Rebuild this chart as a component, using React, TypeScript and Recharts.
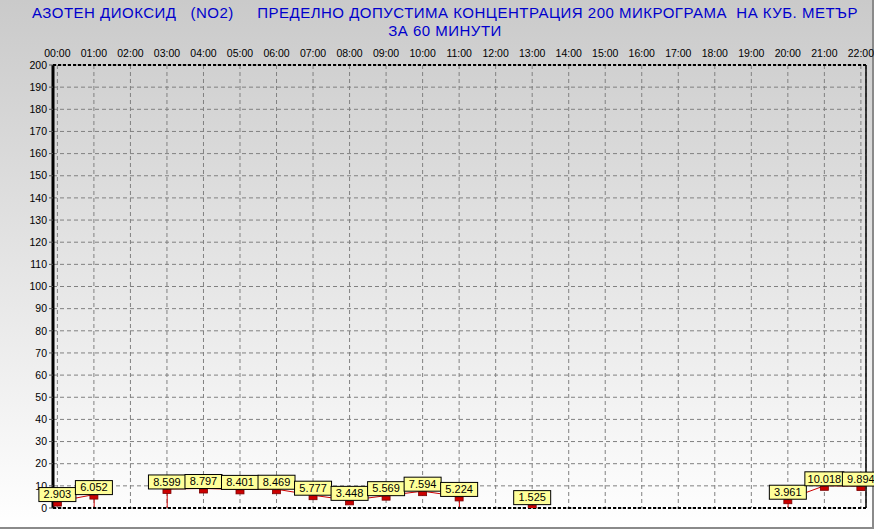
import React from 'react';
import {
  ComposedChart,
  Line,
  Bar,
  XAxis,
  YAxis,
  CartesianGrid,
  ReferenceLine,
} from 'recharts';

const hours = [0, 1, 2, 3, 4, 5, 6, 7, 8, 9, 10, 11, 12, 13, 14, 15, 16, 17, 18, 19, 20, 21, 22];
const hourLabels = [
  '00:00', '01:00', '02:00', '03:00', '04:00', '05:00', '06:00', '07:00', '08:00', '09:00', '10:00', '11:00',
  '12:00', '13:00', '14:00', '15:00', '16:00', '17:00', '18:00', '19:00', '20:00', '21:00', '22:00',
];
const no2Values: (number | null)[] = [
  2.903, 6.052, null, 8.599, 8.797, 8.401, 8.469, 5.777, 3.448, 5.569, 7.594, 5.224,
  null, 1.525, null, null, null, null, null, null, 3.961, 10.018, 9.894,
];
const yTicks = [0, 10, 20, 30, 40, 50, 60, 70, 80, 90, 100, 110, 120, 130, 140, 150, 160, 170, 180, 190, 200];

const titleLine1 = 'АЗОТЕН ДИОКСИД   (NO2)     ПРЕДЕЛНО ДОПУСТИМА КОНЦЕНТРАЦИЯ 200 МИКРОГРАМА  НА КУБ. МЕТЪР';
const titleLine2 = 'ЗА 60 МИНУТИ';

// a point at the edge of a gap gets a drop line to the baseline
const data = hours.map((h, i) => {
  const v = no2Values[i];
  const prev = i > 0 ? no2Values[i - 1] : 0;
  const next = i < no2Values.length - 1 ? no2Values[i + 1] : 0;
  const isEdge = v != null && (prev == null || next == null);
  return { hour: h, no2: v, drop: isEdge ? v : null };
});

const FONT = '"Liberation Sans", Arial, sans-serif';

const Marker = (props: any) => {
  const { cx, cy, value } = props;
  if (value == null || cx == null || cy == null) return <g />;
  return (
    <rect x={cx - 4} y={cy + 0.5} width={8} height={4} fill="#cc0000" stroke="#7a0000" strokeWidth={0.8} />
  );
};

const ValueBox = (props: any) => {
  const { x, y, value } = props;
  if (value == null || x == null || y == null) return null;
  const txt = Number(value).toFixed(3);
  const w = txt.length > 5 ? 39 : 37;
  return (
    <g>
      <rect x={x - w / 2} y={y - 14} width={w} height={14} fill="#ffff99" stroke="#000" strokeWidth={1} />
      <text x={x} y={y - 3.2} textAnchor="middle" fontSize={11} fontFamily={FONT} fill="#000">
        {txt}
      </text>
    </g>
  );
};

export default function App() {
  return (
    <div
      style={{
        position: 'absolute',
        left: 0,
        top: 0,
        width: 874,
        height: 529,
        boxSizing: 'border-box',
        background: 'linear-gradient(to bottom, #cacaca 0%, #ffffff 100%)',
        fontFamily: FONT,
        overflow: 'hidden',
      }}
    >
      <div
        style={{
          position: 'absolute',
          left: 0,
          top: 4,
          width: 890,
          textAlign: 'center',
          color: '#0000cc',
          fontSize: 15,
          letterSpacing: '0.5px',
          lineHeight: '18px',
          whiteSpace: 'pre',
          fontFamily: FONT,
        }}
      >
        <div>{titleLine1}</div>
        <div>{titleLine2}</div>
      </div>
      <div style={{ position: 'absolute', right: 0, top: 0, width: 2, height: 529, background: '#8a8a8a' }} />
      <div style={{ position: 'absolute', left: 0, bottom: 0, width: 874, height: 2, background: '#8a8a8a' }} />
      <div style={{ position: 'absolute', left: 0, top: 0 }}>
        <ComposedChart width={874} height={529} data={data} margin={{ top: 45, right: 8, bottom: 21, left: 3 }}>
          <CartesianGrid stroke="#808080" strokeDasharray="4 3" />
          <XAxis
            dataKey="hour"
            type="number"
            orientation="top"
            domain={[-0.12, 22.14]}
            ticks={hours}
            tickFormatter={(v: number) => hourLabels[v]}
            allowDataOverflow
            height={20}
            axisLine={false}
            tickLine={false}
            tickSize={0}
            tickMargin={8}
            tick={{ fill: '#000', fontSize: 10.5, fontFamily: FONT }}
            interval={0}
          />
          <YAxis
            type="number"
            domain={[0, 200]}
            ticks={yTicks}
            allowDataOverflow
            width={50}
            interval={0}
            axisLine={{ stroke: '#000', strokeWidth: 3 }}
            tickLine={{ stroke: '#555' }}
            tickSize={4}
            tickMargin={2}
            tick={{ fill: '#000', fontSize: 10.5, fontFamily: FONT }}
          />
          <ReferenceLine y={200} stroke="#000" strokeWidth={2} strokeDasharray="3 2" />
          <ReferenceLine y={0} stroke="#000" strokeWidth={2} strokeDasharray="3 2" />
          <ReferenceLine x={22.14} stroke="#000" strokeWidth={1.5} />
          <Bar dataKey="drop" barSize={1} fill="#cc0000" isAnimationActive={false} />
          <Line
            dataKey="no2"
            type="linear"
            stroke="#cc0000"
            strokeWidth={1}
            connectNulls={false}
            dot={<Marker />}
            activeDot={false}
            label={<ValueBox />}
            isAnimationActive={false}
          />
        </ComposedChart>
      </div>
    </div>
  );
}
